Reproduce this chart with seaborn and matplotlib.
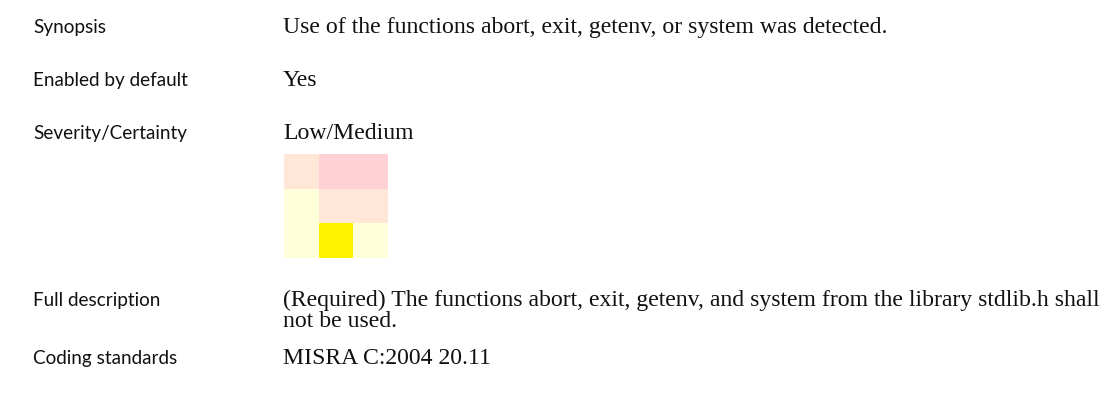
import matplotlib
matplotlib.use("Agg")
import matplotlib.pyplot as plt
from matplotlib.colors import ListedColormap
import seaborn as sns
import numpy as np

# --- data ---
labels = ["Synopsis", "Enabled by default", "Severity/Certainty", "Full description", "Coding standards"]
values = [
    ["Use of the functions abort, exit, getenv, or system was detected."],
    ["Yes"],
    ["Low/Medium"],
    ["(Required) The functions abort, exit, getenv, and system from the library stdlib.h shall",
     "not be used."],
    ["MISRA C:2004 20.11"],
]
# severity/certainty grid: 0 = none, 1 = light, 2 = medium, 3 = current rating
grid = [[1, 2, 2],
        [0, 1, 1],
        [0, 3, 0]]
level_colors = ["#FFFFDA", "#FFE6D6", "#FFD0D4", "#FFF200"]

W, H = 1111, 401
fig = plt.figure(figsize=(W / 100, H / 100), dpi=100)
fig.patch.set_facecolor("white")

baselines = [33, 86, 139, 306, 364]
line_gap = 21
label_x = 33
value_x = 283
for lab, val, yb in zip(labels, values, baselines):
    fig.text(label_x / W, 1 - yb / H, lab, family="Lato", fontsize=13.6,
             va="baseline", ha="left", color="#111111")
    for i, line in enumerate(val):
        fig.text(value_x / W, 1 - (yb + i * line_gap) / H, line, family="Liberation Serif",
                 fontsize=17.1, va="baseline", ha="left", color="#111111")

ax = fig.add_axes([284 / W, 1 - 258 / H, 104 / W, 104 / H])
sns.heatmap(np.array(grid), ax=ax, cmap=ListedColormap(level_colors), vmin=-0.5, vmax=3.5,
            cbar=False, xticklabels=False, yticklabels=False, linewidths=0)
ax.set_xlabel("")
ax.set_ylabel("")
for s in ax.spines.values():
    s.set_visible(False)

fig.savefig("out.png", dpi=100, facecolor="white")
